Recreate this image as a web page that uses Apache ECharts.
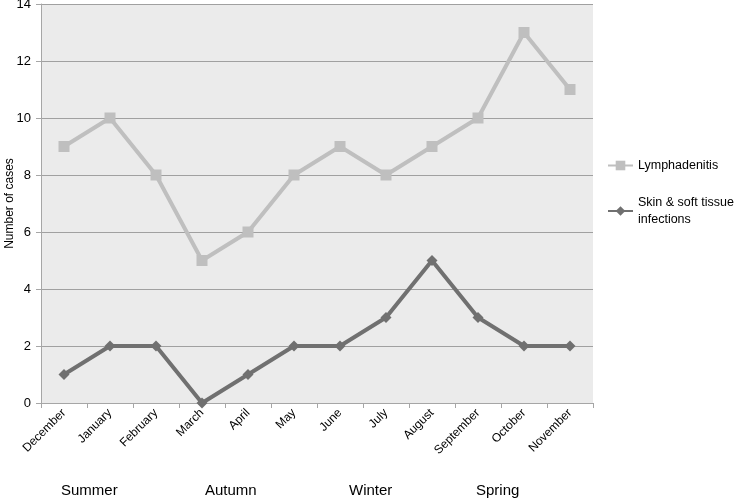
<!DOCTYPE html>
<html><head><meta charset="utf-8">
<script src="https://cdn.jsdelivr.net/npm/echarts@6/dist/echarts.min.js"></script>
<style>html,body{margin:0;padding:0;background:#fff}#c{width:740px;height:501px}</style>
</head><body><div id="c"></div>
<script>
const months = ['December','January','February','March','April','May','June','July','August','September','October','November'];
const lymphadenitis = [9,10,8,5,6,8,9,8,9,10,13,11];
const skinSoftTissue = [1,2,2,0,1,2,2,3,5,3,2,2];
const seasons = ['Summer','Autumn','Winter','Spring'];
const seasonX = [90,234,378,505];

const chart = echarts.init(document.getElementById('c'), null, {renderer:'canvas'});
chart.setOption({
  animation:false,
  backgroundColor:'#fff',
  textStyle:{fontFamily:'Liberation Sans, Arial, sans-serif'},
  grid:{left:41,right:147,top:4,bottom:98,show:true,backgroundColor:'#ebebeb',borderWidth:0,
        outerBoundsMode:'none',containLabel:false},
  legend:{
    orient:'vertical',left:602,top:152,itemGap:20,itemWidth:25,itemHeight:12,
    textStyle:{fontSize:12.5,color:'#000',lineHeight:17},
    data:['Lymphadenitis','Skin & soft tissue\ninfections']
  },
  xAxis:{
    type:'category',data:months,boundaryGap:true,
    axisLine:{lineStyle:{color:'#a6a6a6',width:1}},
    axisTick:{show:true,length:5,lineStyle:{color:'#a6a6a6'}},
    axisLabel:{rotate:45,fontSize:12,color:'#000',margin:8,interval:0}
  },
  yAxis:{
    type:'value',min:0,max:14,interval:2,
    name:'Number of cases',nameLocation:'middle',nameGap:25,nameRotate:90,nameMoveOverlap:false,
    nameTextStyle:{fontSize:12,color:'#000'},
    axisLine:{show:true,lineStyle:{color:'#a6a6a6'}},
    axisTick:{show:true,length:5,lineStyle:{color:'#a6a6a6'}},
    axisLabel:{fontSize:13,color:'#000',margin:10},
    splitLine:{show:true,lineStyle:{color:'#a0a0a0',width:1}}
  },
  series:[
    {name:'Lymphadenitis',type:'line',data:lymphadenitis,symbol:'rect',symbolSize:11,
     lineStyle:{color:'#bfbfbf',width:4},itemStyle:{color:'#bfbfbf'},z:3},
    {name:'Skin & soft tissue\ninfections',type:'line',data:skinSoftTissue,symbol:'diamond',symbolSize:[11,11],
     lineStyle:{color:'#707070',width:4},itemStyle:{color:'#707070'},z:4}
  ],
  graphic: seasons.map((s,i)=>({type:'text',left:seasonX[i]-29,top:483,
     style:{text:s,fontSize:15,fill:'#000',fontFamily:'Liberation Sans, Arial, sans-serif'}}))
});
</script></body></html>
